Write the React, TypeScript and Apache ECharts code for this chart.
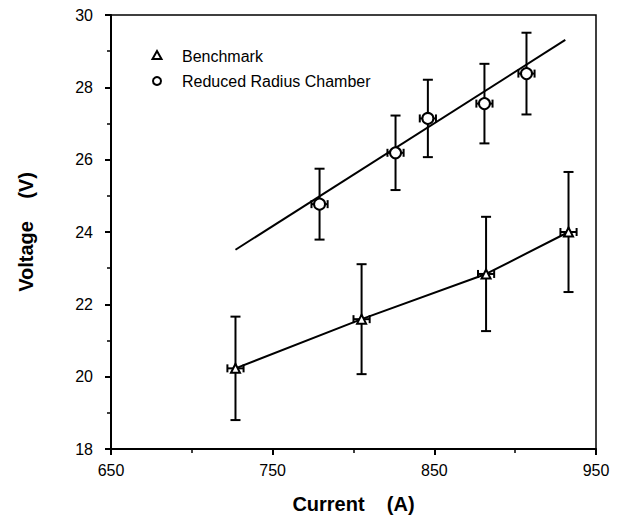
import React, { useEffect, useRef } from "react";
import * as echarts from "echarts";

const xTicks = [650, 750, 850, 950];
const yTicks = [18, 20, 22, 24, 26, 28, 30];

const benchCurrent = [727, 805, 882, 933];
const benchVoltage = [20.23, 21.59, 22.84, 24.0];
const benchVErr = [1.43, 1.52, 1.58, 1.66];
const benchIErr = [5, 5, 5, 5];

const reducedCurrent = [779, 826, 846, 881, 907];
const reducedVoltage = [24.77, 26.19, 27.14, 27.55, 28.38];
const reducedVErr = [0.98, 1.03, 1.07, 1.1, 1.13];
const reducedIErr = [5, 5, 5, 5, 5];

const reducedFitCurrent = [727, 931];
const reducedFitVoltage = [23.51, 29.31];

const legendNames = ["Benchmark", "Reduced Radius Chamber"];
const FONT = "'Liberation Sans', Arial, Helvetica, sans-serif";

function errData(xs: number[], ys: number[], ey: number[], ex: number[]) {
  return xs.map((x, i) => [x, ys[i], ey[i], ex[i]]);
}

function renderErr(params: any, api: any) {
  const x = api.value(0);
  const y = api.value(1);
  const ey = api.value(2);
  const ex = api.value(3);
  const top = api.coord([x, y + ey]);
  const bot = api.coord([x, y - ey]);
  const left = api.coord([x - ex, y]);
  const right = api.coord([x + ex, y]);
  const cw = 5;
  const ch = 4;
  const style = { stroke: "#000", lineWidth: 2 };
  const ln = (x1: number, y1: number, x2: number, y2: number) => ({
    type: "line",
    shape: { x1, y1, x2, y2 },
    style,
  });
  return {
    type: "group",
    children: [
      ln(top[0], top[1], bot[0], bot[1]),
      ln(top[0] - cw, top[1], top[0] + cw, top[1]),
      ln(bot[0] - cw, bot[1], bot[0] + cw, bot[1]),
      ln(left[0], left[1], right[0], right[1]),
      ln(left[0], left[1] - ch, left[0], left[1] + ch),
      ln(right[0], right[1] - ch, right[0], right[1] + ch),
    ],
  };
}

export default function App() {
  const ref = useRef<HTMLDivElement>(null);
  useEffect(() => {
    if (!ref.current) return;
    const chart = echarts.init(ref.current, null, { renderer: "svg" });
    const option: any = {
      animation: false,
      backgroundColor: "#fff",
      grid: {
        left: 111,
        right: 46,
        top: 15,
        bottom: 68,
        show: true,
        borderColor: "#000",
        borderWidth: 1.5,
      },
      xAxis: {
        type: "value",
        min: xTicks[0],
        max: xTicks[xTicks.length - 1],
        interval: 100,
        name: "Current    (A)",
        nameLocation: "middle",
        nameGap: 45,
        nameTextStyle: { fontFamily: FONT, fontWeight: "bold", fontSize: 20, color: "#000" },
        axisLine: { onZero: false, lineStyle: { color: "#000", width: 2 } },
        axisTick: { show: true, length: 6, lineStyle: { color: "#000", width: 2 } },
        minorTick: { show: true, splitNumber: 2, length: 4, lineStyle: { color: "#000", width: 1.5 } },
        splitLine: { show: false },
        axisLabel: { fontFamily: FONT, fontSize: 16, color: "#000", margin: 13 },
      },
      yAxis: {
        type: "value",
        min: yTicks[0],
        max: yTicks[yTicks.length - 1],
        interval: 2,
        name: "Voltage    (V)",
        nameLocation: "middle",
        nameGap: 75,
        nameTextStyle: { fontFamily: FONT, fontWeight: "bold", fontSize: 20, color: "#000" },
        axisLine: { onZero: false, lineStyle: { color: "#000", width: 2 } },
        axisTick: { show: true, length: 6, lineStyle: { color: "#000", width: 2 } },
        minorTick: { show: true, splitNumber: 2, length: 4, lineStyle: { color: "#000", width: 1.5 } },
        splitLine: { show: false },
        axisLabel: { fontFamily: FONT, fontSize: 16, color: "#000", margin: 18 },
      },
      graphic: [
        {
          type: "polygon",
          shape: { points: [[157, 51], [152.5, 59], [161.5, 59]] },
          style: { fill: "#fff", stroke: "#000", lineWidth: 2 },
        },
        { type: "circle", shape: { cx: 157, cy: 81, r: 4 }, style: { fill: "#fff", stroke: "#000", lineWidth: 2 } },
        {
          type: "text",
          x: 182,
          y: 56,
          style: { text: legendNames[0], fontFamily: FONT, fontSize: 16, fill: "#000", verticalAlign: "middle" },
        },
        {
          type: "text",
          x: 182,
          y: 81,
          style: { text: legendNames[1], fontFamily: FONT, fontSize: 16, fill: "#000", verticalAlign: "middle" },
        },
      ],
      series: [
        {
          type: "line",
          data: reducedFitCurrent.map((x, i) => [x, reducedFitVoltage[i]]),
          symbol: "none",
          lineStyle: { color: "#000", width: 2 },
          z: 1,
        },
        {
          type: "line",
          data: benchCurrent.map((x, i) => [x, benchVoltage[i]]),
          symbol: "none",
          lineStyle: { color: "#000", width: 2 },
          z: 1,
        },
        {
          type: "custom",
          renderItem: renderErr,
          data: errData(benchCurrent, benchVoltage, benchVErr, benchIErr),
          encode: { x: 0, y: 1 },
          z: 2,
        },
        {
          type: "custom",
          renderItem: renderErr,
          data: errData(reducedCurrent, reducedVoltage, reducedVErr, reducedIErr),
          encode: { x: 0, y: 1 },
          z: 2,
        },
        {
          name: legendNames[0],
          type: "scatter",
          data: benchCurrent.map((x, i) => [x, benchVoltage[i]]),
          symbol: "triangle",
          symbolSize: [9, 9],
          itemStyle: { color: "#fff", borderColor: "#000", borderWidth: 2, opacity: 1 },
          z: 3,
        },
        {
          name: legendNames[1],
          type: "scatter",
          data: reducedCurrent.map((x, i) => [x, reducedVoltage[i]]),
          symbol: "circle",
          symbolSize: 11,
          itemStyle: { color: "#fff", borderColor: "#000", borderWidth: 2, opacity: 1 },
          z: 3,
        },
      ],
    };
    chart.setOption(option);
    return () => chart.dispose();
  }, []);
  return (
    <div
      ref={ref}
      style={{ position: "fixed", left: 0, top: 0, width: 642, height: 519 }}
    />
  );
}
